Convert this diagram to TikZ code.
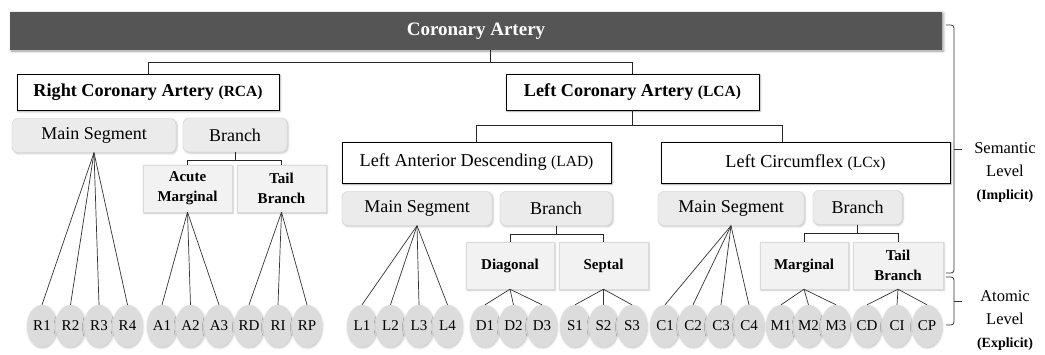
\documentclass[tikz,border=0pt]{standalone}
\usepackage{fontspec}
\setmainfont{Liberation Serif}
\usepackage{tikz}
\usetikzlibrary{positioning,shapes.geometric,shadows.blur}
\definecolor{barGray}{HTML}{555555}
\definecolor{segFill}{HTML}{EBEBEB}
\definecolor{segLine}{HTML}{D2D2D2}
\definecolor{subFill}{HTML}{F2F2F2}
\definecolor{subLine}{HTML}{DADADA}
\definecolor{leafFill}{HTML}{DCDCDC}
\newcommand{\vesselabbr}[1]{{\fontsize{15.5}{17}\selectfont #1}}
\newcommand{\lvlnote}[1]{{\bfseries\fontsize{14}{16}\selectfont #1}}
\tikzset{
    topbar/.style={
           rectangle,
           fill=barGray, text=white,
           minimum width=932pt, minimum height=38pt,
           inner sep=0pt,
           font=\bfseries\fontsize{19}{21}\selectfont,
           blur shadow={shadow xshift=1.5pt, shadow yshift=-1pt, shadow blur radius=2.5pt},
           },
    artery/.style={
           rectangle,
           draw=black, line width=0.9pt, fill=white,
           minimum height=36pt,
           inner sep=2pt,
           font=\bfseries\fontsize{18.2}{20}\selectfont,
           blur shadow={shadow xshift=1pt, shadow yshift=-1pt, shadow blur radius=2pt},
           },
    vessel/.style={
           artery,
           minimum height=41pt,
           font=\fontsize{18.2}{20}\selectfont,
           },
    seg/.style={
           rectangle,
           rounded corners=6pt,
           draw=segLine, fill=segFill,
           minimum height=34pt,
           inner sep=2pt,
           font=\fontsize{18}{20}\selectfont,
           blur shadow={shadow xshift=1pt, shadow yshift=-1pt, shadow blur radius=2pt, shadow opacity=25},
           },
    sub/.style={
           rectangle,
           draw=subLine, fill=subFill,
           minimum width=89pt, minimum height=47pt,
           inner sep=2pt, align=center,
           font=\bfseries\fontsize{15}{20}\selectfont,
           blur shadow={shadow xshift=1pt, shadow yshift=-1pt, shadow blur radius=2pt, shadow opacity=25},
           },
    leaf/.style={
           ellipse,
           fill=leafFill,
           minimum width=30pt, minimum height=42pt,
           inner sep=0pt,
           font=\fontsize{15}{16}\selectfont,
           blur shadow={shadow xshift=0.5pt, shadow yshift=-1pt, shadow blur radius=2pt, shadow opacity=25},
           },
    tree/.style={draw=black!85, line width=0.9pt},
    twig/.style={draw=black!80, line width=0.7pt},
    lvlline/.style={draw=black!80, line width=0.8pt, rounded corners=3pt},
    lvl/.style={align=center, font=\fontsize{16.5}{23}\selectfont},
}

\begin{document}
\begin{tikzpicture}[x=1pt,y=-1pt,-]
\useasboundingbox (0,0) rectangle (1045,354);

    \node[topbar] (CA) at (476,31) {Coronary Artery};

    \node[artery,minimum width=262pt] (RCA) at (148,92.5) {Right Coronary Artery \vesselabbr{(RCA)}};
    \node[artery,minimum width=253pt] (LCA) at (632.5,92) {Left Coronary Artery \vesselabbr{(LCA)}};

    % right coronary artery
    \node[seg,minimum width=164pt] (rMain) at (94,135.5) {Main Segment};
    \node[seg,minimum width=104pt] (rBr)   at (235,135)  {Branch};
    \node[sub] (rAM) at (187.5,188.5) {Acute\\Marginal};
    \node[sub] (rTB) at (281.5,188.5) {Tail\\Branch};

    % left coronary artery
    \node[vessel,minimum width=269pt] (LAD) at (476.5,162.5) {Left Anterior Descending \vesselabbr{\mdseries(LAD)}};
    \node[vessel,minimum width=289pt] (LCx) at (805.5,162.5) {Left Circumflex \vesselabbr{\mdseries(LCx)}};

    \node[seg,minimum width=150pt] (dMain) at (417,208.5) {Main Segment};
    \node[seg,minimum width=112pt] (dBr)   at (556,208.5) {Branch};
    \node[sub,minimum width=88pt] (dDg) at (510,265.5)   {Diagonal};
    \node[sub] (dSp) at (603.5,265.5) {Septal};

    \node[seg,minimum width=146pt] (cMain) at (731,208.5)   {Main Segment};
    \node[seg,minimum width=89pt]  (cBr)   at (857.5,207.5) {Branch};
    \node[sub,minimum width=88pt] (cMg) at (804,265.5) {Marginal};
    \node[sub,minimum width=90pt] (cTB) at (898,265.5) {Tail\\Branch};

    % leaves
    \node[leaf] (R1) at (42,326) {R1};
    \node[leaf,right of=R1,node distance=28.5pt] (R2) {R2};
    \node[leaf,right of=R2,node distance=28.5pt] (R3) {R3};
    \node[leaf,right of=R3,node distance=28.5pt] (R4) {R4};
    \node[leaf] (A1) at (162,326) {A1};
    \node[leaf,right of=A1,node distance=28.5pt] (A2) {A2};
    \node[leaf,right of=A2,node distance=28.5pt] (A3) {A3};
    \node[leaf] (RD) at (249,326) {RD};
    \node[leaf,right of=RD,node distance=29pt] (RI) {RI};
    \node[leaf,right of=RI,node distance=29pt] (RP) {RP};
    \node[leaf] (L1) at (362,326) {L1};
    \node[leaf,right of=L1,node distance=28.5pt] (L2) {L2};
    \node[leaf,right of=L2,node distance=28.5pt] (L3) {L3};
    \node[leaf,right of=L3,node distance=28.5pt] (L4) {L4};
    \node[leaf] (D1) at (485,326) {D1};
    \node[leaf,right of=D1,node distance=28.5pt] (D2) {D2};
    \node[leaf,right of=D2,node distance=28.5pt] (D3) {D3};
    \node[leaf] (S1) at (575,326) {S1};
    \node[leaf,right of=S1,node distance=28.5pt] (S2) {S2};
    \node[leaf,right of=S2,node distance=28.5pt] (S3) {S3};
    \node[leaf] (C1) at (665,326) {C1};
    \node[leaf,right of=C1,node distance=28pt] (C2) {C2};
    \node[leaf,right of=C2,node distance=28pt] (C3) {C3};
    \node[leaf,right of=C3,node distance=28pt] (C4) {C4};
    \node[leaf] (M1) at (781,326) {M1};
    \node[leaf,right of=M1,node distance=27.5pt] (M2) {M2};
    \node[leaf,right of=M2,node distance=27.5pt] (M3) {M3};
    \node[leaf] (CD) at (867,326) {CD};
    \node[leaf,right of=CD,node distance=30pt] (CI) {CI};
    \node[leaf,right of=CI,node distance=30pt] (CP) {CP};

    % tree lines
    \coordinate (j0) at (490,62);
    \draw[tree] ([xshift=14pt]CA.south) -- (j0) -| (RCA.north);
    \draw[tree] (j0) -| (LCA.north);
    \draw[tree] (LCA.south) -- ++(0,15) coordinate (j1);
    \draw[tree] (j1) -| (LAD.north);
    \draw[tree] (j1) -| ([xshift=-23.5pt]LCx.north);

    \draw[tree] (rBr.south) -- ++(0,8) coordinate (j2);
    \draw[tree] (j2) -| (rAM.north);
    \draw[tree] (j2) -| (rTB.north);
    \draw[tree] (dBr.south) -- ++(0,9) coordinate (j3);
    \draw[tree] (j3) -| (dDg.north);
    \draw[tree] (j3) -| (dSp.north);
    \draw[tree] (cBr.south) -- ++(0,9) coordinate (j4);
    \draw[tree] (j4) -| (cMg.north);
    \draw[tree] (j4) -| (cTB.north);

    \path[twig] (rMain.south) edge (R1.north) edge (R2.north) edge (R3.north) edge (R4.north);
    \path[twig] (rAM.south) edge (A1.north) edge (A2.north) edge (A3.north);
    \path[twig] (rTB.south) edge (RD.north) edge (RI.north) edge (RP.north);
    \path[twig] (dMain.south) edge (L1.north) edge (L2.north) edge (L3.north) edge (L4.north);
    \path[twig] (dDg.south) edge (D1.north) edge (D2.north) edge (D3.north);
    \path[twig] (dSp.south) edge (S1.north) edge (S2.north) edge (S3.north);
    \path[twig] (cMain.south) edge (C1.north) edge (C2.north) edge (C3.north) edge (C4.north);
    \path[twig] (cMg.south) edge (M1.north) edge (M2.north) edge (M3.north);
    \path[twig] (cTB.south) edge (CD.north) edge (CI.north) edge (CP.north);

    % levels
    \coordinate (bTop) at (946,25);
    \coordinate (bMid) at (946,273);
    \coordinate (bLow) at (946,277);
    \coordinate (bBot) at (946,325);
    \draw[lvlline] (bTop) -- ++(8,0) |- (bMid);
    \draw[lvlline] (bLow) -- ++(8,0) |- (bBot);
    \draw[lvlline] ([xshift=8pt]bTop |- 0,149) -- ++(8,0);
    \draw[lvlline] ([xshift=8pt]bLow |- 0,301) -- ++(8,0);
    \node[lvl] (sem) at (1005,173) {Semantic\\Level\\\lvlnote{(Implicit)}};
    \node[lvl] (atm) at (1005,321) {Atomic\\Level\\\lvlnote{(Explicit)}};

\end{tikzpicture}
\end{document}
